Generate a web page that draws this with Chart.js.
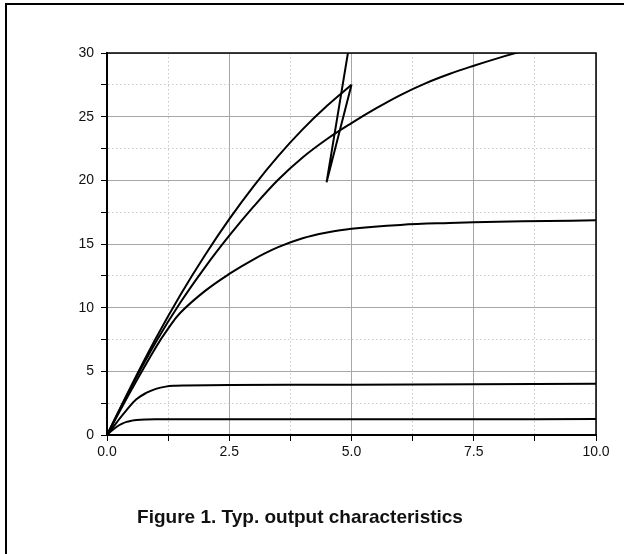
<!DOCTYPE html>
<html>
<head>
<meta charset="utf-8">
<script src="https://cdn.jsdelivr.net/npm/chart.js@4"></script>
<style>
  body { margin: 0; background: #fff; }
  #wrap { position: relative; width: 624px; height: 554px; overflow: hidden; }
  #frame { position: absolute; left: 5px; top: 3px; width: 700px; height: 700px; border: 2px solid #000; box-sizing: border-box; }
  #myChart { position: absolute; left: 0; top: 0; }
  #caption { position: absolute; left: 0; width: 600px; top: 506px; text-align: center;
    font: bold 19px "Liberation Sans", Arial, sans-serif; color: #111; }
</style>
</head>
<body>
<div id="wrap">
  <div id="frame"></div>
  <canvas id="myChart" width="624" height="554"></canvas>
  <div id="caption">Figure 1. Typ. output characteristics</div>
</div>
<script>
// curves (x, y pairs)
const c1x = [0, 0.1, 0.2, 0.3, 0.4, 0.5, 0.6, 0.8, 1.0, 2.5, 5, 7.5, 10];
const c1y = [0, 0.35, 0.65, 0.87, 1.03, 1.12, 1.18, 1.22, 1.23, 1.23, 1.24, 1.24, 1.25];

const c2x = [0, 0.2, 0.4, 0.6, 0.8, 1.0, 1.2, 1.4, 1.6, 2.5, 5, 7.5, 10];
const c2y = [0, 1.0, 1.95, 2.8, 3.3, 3.62, 3.8, 3.87, 3.89, 3.92, 3.95, 3.98, 4.02];

const c3x = [0, 0.5, 1, 1.25, 1.5, 2, 2.5, 3, 3.5, 4, 4.5, 5, 6, 7, 8, 9, 10];
const c3y = [0, 3.55, 6.9, 8.35, 9.6, 11.3, 12.65, 13.8, 14.75, 15.45, 15.9, 16.2, 16.5, 16.65, 16.75, 16.8, 16.87];

const c4x = [0, 0.5, 1, 1.5, 2, 2.5, 3, 3.5, 4, 4.5, 5, 5.5, 6, 6.5, 7, 7.5, 8, 8.5];
const c4y = [0, 3.8, 7.3, 10.4, 13.15, 15.65, 17.95, 20.05, 21.8, 23.25, 24.5, 25.65, 26.7, 27.6, 28.35, 29.0, 29.6, 30.15];

const c5x = [0, 0.5, 1, 1.5, 2, 2.5, 3, 3.5, 4, 4.5, 5];
const c5y = [0, 3.9, 7.6, 11.0, 14.1, 16.95, 19.55, 21.9, 24.0, 25.85, 27.5];

// the zig-zag at the end of the top curve
const zigX = [5.0, 4.49, 4.97];
const zigY = [27.5, 19.84, 31];

const xTicks = [0, 2.5, 5, 7.5, 10];
const yTicks = [0, 5, 10, 15, 20, 25, 30];

function pts(xs, ys) {
  return xs.map((x, i) => ({ x: x, y: ys[i] }));
}

function curve(xs, ys, tension) {
  return {
    data: pts(xs, ys),
    borderColor: '#000',
    borderWidth: 2,
    pointRadius: 0,
    showLine: true,
    fill: false,
    tension: tension
  };
}

const isMajor = (v, step) => Math.abs(v / step - Math.round(v / step)) < 1e-6;

const frame = {
  id: 'frame',
  afterDatasetsDraw(chart) {
    const a = chart.chartArea;
    const ctx = chart.ctx;
    ctx.save();
    ctx.strokeStyle = '#000';
    ctx.lineWidth = 1.5;
    ctx.strokeRect(a.left, a.top, a.right - a.left, a.bottom - a.top);
    ctx.lineWidth = 2;
    ctx.beginPath();
    ctx.moveTo(a.left, a.top);
    ctx.lineTo(a.left, a.bottom);
    ctx.lineTo(a.right, a.bottom);
    ctx.stroke();
    ctx.restore();
  }
};

Chart.defaults.font.family = '"Liberation Sans", Arial, sans-serif';
Chart.defaults.font.size = 14;
Chart.defaults.color = '#111';

const myChart = new Chart(document.getElementById('myChart'), {
  type: 'scatter',
  data: {
    datasets: [
      curve(c1x, c1y, 0.4),
      curve(c2x, c2y, 0.4),
      curve(c3x, c3y, 0.4),
      curve(c4x, c4y, 0.4),
      curve(c5x, c5y, 0.4),
      curve(zigX, zigY, 0)
    ]
  },
  options: {
    responsive: false,
    animation: false,
    layout: { padding: { left: 67, right: 28, top: 53, bottom: 94 } },
    plugins: { legend: { display: false }, tooltip: { enabled: false } },
    scales: {
      x: {
        type: 'linear',
        min: 0,
        max: 10,
        afterFit: s => { s.height = 25; },
        afterBuildTicks: s => {
          const t = [];
          for (let v = 0; v <= 10.0001; v += 1.25) t.push({ value: v });
          s.ticks = t;
        },
        ticks: {
          padding: 3,
          maxRotation: 0,
          autoSkip: false,
          callback: v => (xTicks.some(t => Math.abs(t - v) < 1e-6) ? v.toFixed(1) : '')
        },
        grid: {
          color: c => (isMajor(c.tick.value, 2.5) ? '#a6a6a6' : '#c8c8c8'),
          lineWidth: 1,
          tickColor: '#000',
          tickLength: 6
        },
        border: {
          color: '#000',
          width: 2,
          dash: c => (c.tick && isMajor(c.tick.value, 2.5) ? [] : [1.5, 2.5])
        }
      },
      y: {
        type: 'linear',
        min: 0,
        max: 30,
        afterFit: s => { s.width = 40; },
        afterBuildTicks: s => {
          const t = [];
          for (let v = 0; v <= 30.0001; v += 2.5) t.push({ value: v });
          s.ticks = t;
        },
        ticks: {
          padding: 7,
          autoSkip: false,
          callback: v => (yTicks.includes(v) ? String(v) : '')
        },
        grid: {
          color: c => (isMajor(c.tick.value, 5) ? '#a6a6a6' : '#c8c8c8'),
          lineWidth: 1,
          tickColor: '#000',
          tickLength: 6
        },
        border: {
          color: '#000',
          width: 2,
          dash: c => (c.tick && isMajor(c.tick.value, 5) ? [] : [1.5, 2.5])
        }
      }
    }
  },
  plugins: [frame]
});
</script>
</body>
</html>
